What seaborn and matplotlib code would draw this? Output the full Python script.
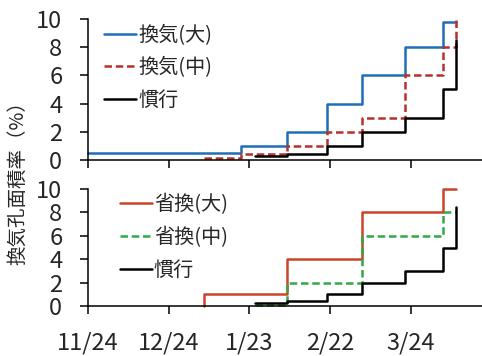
import pandas as pd
import matplotlib
matplotlib.use('Agg')
import matplotlib.pyplot as plt
import seaborn as sns

# --- data: cumulative vent area ratio (%), step changes ---
top_series = ['換気(大)', '換気(中)', '慣行']
bottom_series = ['省換(大)', '省換(中)', '慣行']

kanki_dai_dates = ['2014-11-24', '2015-01-20', '2015-02-06', '2015-02-21',
                   '2015-03-06', '2015-03-22', '2015-04-05', '2015-04-10']
kanki_dai_vals = [0.5, 1.0, 2.0, 4.0, 6.0, 8.0, 9.8, 9.8]

kanki_chu_dates = ['2015-01-06', '2015-01-20', '2015-02-06', '2015-02-21',
                   '2015-03-06', '2015-03-22', '2015-04-05', '2015-04-10']
kanki_chu_vals = [0.15, 0.45, 1.0, 2.0, 3.0, 6.0, 8.0, 10.0]

kanko_dates = ['2015-01-25', '2015-02-06', '2015-02-21', '2015-03-06',
               '2015-03-22', '2015-04-05', '2015-04-10']
kanko_vals = [0.25, 0.45, 1.0, 2.0, 3.0, 5.0, 8.5]

shokan_dai_dates = ['2015-01-06', '2015-01-06', '2015-02-06', '2015-03-06',
                    '2015-04-05', '2015-04-10']
shokan_dai_vals = [0.0, 1.0, 4.0, 8.0, 10.0, 10.0]

shokan_chu_dates = ['2015-01-25', '2015-02-06', '2015-03-06', '2015-04-05', '2015-04-10']
shokan_chu_vals = [0.1, 2.0, 6.0, 8.0, 8.0]

x_ticks = ['2014-11-24', '2014-12-24', '2015-01-23', '2015-02-22', '2015-03-24']
x_labels = ['11/24', '12/24', '1/23', '2/22', '3/24']
y_ticks = [0, 2, 4, 6, 8, 10]


def make_frame(parts):
    frames = []
    for name, dates, vals in parts:
        frames.append(pd.DataFrame({'date': pd.to_datetime(dates), 'value': vals, 'series': name}))
    return pd.concat(frames, ignore_index=True)


df_top = make_frame([('換気(大)', kanki_dai_dates, kanki_dai_vals),
                     ('換気(中)', kanki_chu_dates, kanki_chu_vals),
                     ('慣行', kanko_dates, kanko_vals)])
df_bot = make_frame([('省換(大)', shokan_dai_dates, shokan_dai_vals),
                     ('省換(中)', shokan_chu_dates, shokan_chu_vals),
                     ('慣行', kanko_dates, kanko_vals)])

# --- style ---
sns.set_style('ticks')
plt.rcParams['font.family'] = ['Noto Sans CJK JP', 'DejaVu Sans']
plt.rcParams['axes.linewidth'] = 1.1
plt.rcParams['axes.edgecolor'] = 'black'

fig = plt.figure(figsize=(4.82, 3.56), dpi=100)
ax_top = fig.add_axes([0.1826, 0.5506, 0.8174, 0.396])
ax_bot = fig.add_axes([0.1826, 0.1404, 0.8174, 0.3287])

top_palette = {'換気(大)': '#1f6fb8', '換気(中)': '#b8302c', '慣行': '#000000'}
top_dashes = {'換気(大)': '', '換気(中)': (3, 1.5), '慣行': ''}
bot_palette = {'省換(大)': '#c9452b', '省換(中)': '#33a845', '慣行': '#000000'}
bot_dashes = {'省換(大)': '', '省換(中)': (3, 1.5), '慣行': ''}

sns.lineplot(data=df_top, x='date', y='value', hue='series', style='series',
             hue_order=top_series, style_order=top_series,
             palette=top_palette, dashes=top_dashes, estimator=None,
             drawstyle='steps-post', linewidth=1.8, ax=ax_top, clip_on=False)
sns.lineplot(data=df_bot, x='date', y='value', hue='series', style='series',
             hue_order=bottom_series, style_order=bottom_series,
             palette=bot_palette, dashes=bot_dashes, estimator=None,
             drawstyle='steps-post', linewidth=1.8, ax=ax_bot, clip_on=False)

x0 = pd.Timestamp('2014-11-24')
x1 = x0 + pd.Timedelta(days=146.5)
for ax in (ax_top, ax_bot):
    ax.set_xlim(x0, x1)
    ax.set_ylim(0, 10)
    ax.set_yticks(y_ticks)
    ax.set_xticks(pd.to_datetime(x_ticks))
    ax.set_xlabel('')
    ax.set_ylabel('')
    ax.tick_params(axis='both', direction='out', length=5.5, width=1.1,
                   labelsize=17, color='black')
    ax.tick_params(axis='y', pad=13)
    sns.despine(ax=ax)

ax_top.set_xticklabels([])
ax_bot.set_xticklabels(x_labels)
ax_bot.tick_params(axis='x', pad=13)

sns.move_legend(ax_top, 'upper left', bbox_to_anchor=(0.04, 0.955), frameon=False,
                title=None, fontsize=14.5, handlelength=1.6, handletextpad=0.1,
                labelspacing=0.55, borderpad=0, borderaxespad=0)
sns.move_legend(ax_bot, 'upper left', bbox_to_anchor=(0.08, 0.96), frameon=False,
                title=None, fontsize=14.5, handlelength=1.6, handletextpad=0.1,
                labelspacing=0.6, borderpad=0, borderaxespad=0)

fig.text(0.037, 0.50, '換気孔面積率（%）', rotation=90, ha='center', va='center', fontsize=14)

fig.savefig('out.png', dpi=100)
